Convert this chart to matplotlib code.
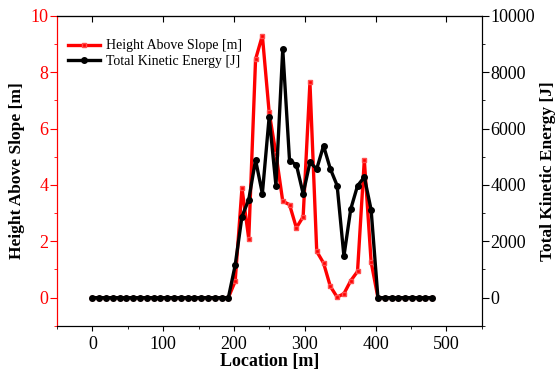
import numpy as np
import matplotlib
matplotlib.use('Agg')
import matplotlib.pyplot as plt
from matplotlib.ticker import MultipleLocator

plt.rcParams['font.family'] = ['Liberation Serif', 'DejaVu Serif']

# location of each sample [m]
location = [0.0, 9.6, 19.2, 28.8, 38.4, 48.0, 57.6, 67.2, 76.8, 86.4,
            96.0, 105.6, 115.2, 124.8, 134.4, 144.0, 153.6, 163.2, 172.8, 182.4,
            192.0, 201.6, 211.2, 220.8, 230.4, 240.0, 249.6, 259.2, 268.8, 278.4,
            288.0, 297.6, 307.2, 316.8, 326.4, 336.0, 345.6, 355.2, 364.8, 374.4,
            384.0, 393.6, 403.2, 412.8, 422.4, 432.0, 441.6, 451.2, 460.8, 470.4,
            480.0]

height = [0] * 21 + [0.58, 3.89, 2.09, 8.46, 9.30, 6.58, 5.10, 3.42, 3.30,
                     2.48, 2.87, 7.64, 1.64, 1.23, 0.40, 0.02, 0.14, 0.60, 0.93,
                     4.89, 1.27] + [0] * 9

energy = [0] * 21 + [1150, 2880, 3480, 4890, 3690, 6410, 3980, 8820, 4860,
                     4720, 3690, 4800, 4570, 5390, 4570, 3980, 1470, 3140, 3970,
                     4280, 3120] + [0] * 9

fig = plt.figure(figsize=(5.59, 3.78), dpi=100)
ax = fig.add_axes([0.102, 0.138, 0.760, 0.820])
ax2 = ax.twinx()

l1, = ax.plot(location, height, '-s', c='#ff0000', lw=2.4, ms=3.5,
              mec='#ff5050', mfc='#ff0000', label='Height Above Slope [m]')
l2, = ax2.plot(location, energy, '-o', c='black', lw=2.4, ms=4,
               mec='black', mfc='black', label='Total Kinetic Energy [J]')

ax.set_xlim(-50, 550)
ax.set_ylim(-1, 10)
ax2.set_ylim(-1000, 10000)

ax.xaxis.set_major_locator(MultipleLocator(100))
ax.xaxis.set_minor_locator(MultipleLocator(50))
ax.yaxis.set_major_locator(MultipleLocator(2))
ax.yaxis.set_minor_locator(MultipleLocator(1))
ax2.yaxis.set_major_locator(MultipleLocator(2000))
ax2.yaxis.set_minor_locator(MultipleLocator(1000))

ax.tick_params(axis='x', which='both', direction='out', labelsize=13, top=False)
ax.tick_params(axis='x', which='major', length=3.5)
ax.tick_params(axis='x', which='minor', length=2)
ax.tick_params(axis='y', which='both', direction='out', colors='#ff0000',
               labelsize=13, pad=1)
ax.tick_params(axis='y', which='major', length=5)
ax.tick_params(axis='y', which='minor', length=2.5)
ax2.tick_params(axis='y', which='both', direction='out', labelsize=13, pad=1)
ax2.tick_params(axis='y', which='major', length=5)
ax2.tick_params(axis='y', which='minor', length=2.5)

# inward ticks on top spine
sec = ax.secondary_xaxis('top')
sec.xaxis.set_major_locator(MultipleLocator(100))
sec.tick_params(direction='in', length=4, labeltop=False)

ax.spines['left'].set_color('#ff0000')
ax2.spines['left'].set_color('#ff0000')

ax.set_xlabel('Location [m]', fontsize=13, fontweight='bold', labelpad=0)
ax.set_ylabel('Height Above Slope [m]', fontsize=12.5, fontweight='bold', labelpad=4)
ax2.set_ylabel('Total Kinetic Energy [J]', fontsize=12.5, fontweight='bold', labelpad=4)

ax2.legend([l1, l2], [l1.get_label(), l2.get_label()], loc='upper left',
           frameon=False, fontsize=10, handlelength=2.3, handletextpad=0.4,
           borderaxespad=0.4, labelspacing=0.2, bbox_to_anchor=(0.0, 0.96))

fig.savefig('out.png', dpi=100)
